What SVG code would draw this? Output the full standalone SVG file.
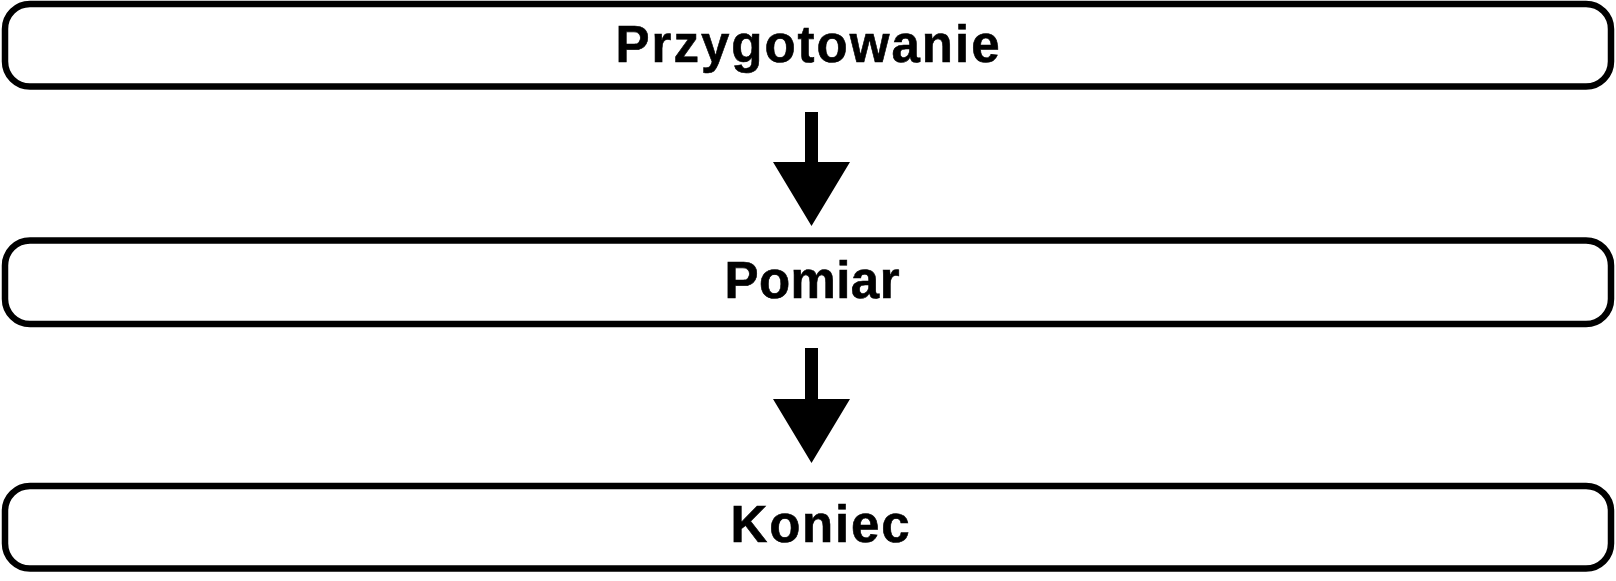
<svg xmlns="http://www.w3.org/2000/svg" width="1616" height="581" viewBox="0 0 1616 581">
<style>
.box{fill:#fff;stroke:#000;stroke-width:6.5}
.lbl{font-family:"Liberation Sans",Arial,sans-serif;font-weight:bold;font-size:51px;fill:#000;stroke:#000;stroke-width:0.6;text-anchor:middle}
.arr{fill:#000;stroke:none}
</style>
<rect width="1616" height="581" fill="#fff"/>
<g id="connectors">
<polygon class="arr" points="805,112 818,112 818,162 850,162 811.5,226 773,162 805,162"/>
<polygon class="arr" points="805,348 818,348 818,399 850,399 811.5,463 773,399 805,399"/>
</g>
<g id="node-przygotowanie">
<rect class="box" x="5" y="4" width="1606" height="82.5" rx="25"/>
<text class="lbl" x="807.5" y="62.3" textLength="384" lengthAdjust="spacing">Przygotowanie</text>
</g>
<g id="node-pomiar">
<rect class="box" x="5" y="240.5" width="1606" height="83.5" rx="25"/>
<text class="lbl" x="812" y="297.5" textLength="175" lengthAdjust="spacing">Pomiar</text>
</g>
<g id="node-koniec">
<rect class="box" x="5" y="486" width="1606" height="82.5" rx="25"/>
<text class="lbl" x="820" y="541.7" textLength="179" lengthAdjust="spacing">Koniec</text>
</g>
</svg>
